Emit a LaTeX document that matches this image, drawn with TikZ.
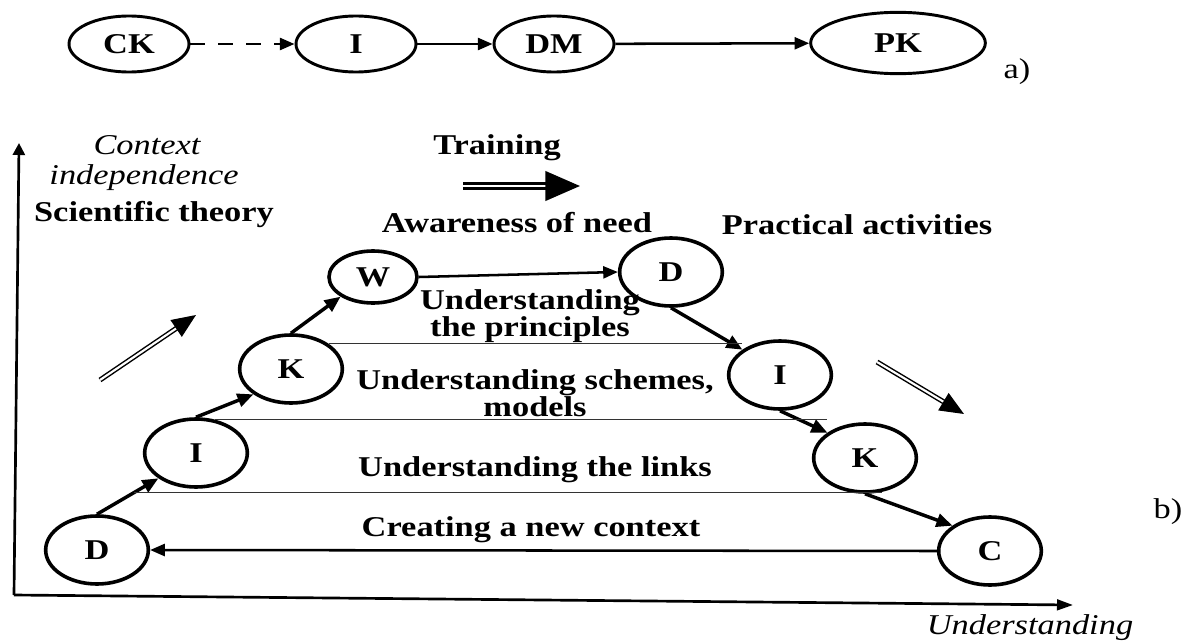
\documentclass[tikz,border=0pt]{standalone}
\usepackage{fontspec}
\setmainfont{Liberation Serif}[FakeStretch=1.2]
\usetikzlibrary{arrows.meta,shapes.geometric,calc}

\begin{document}
\begin{tikzpicture}[x=0.75pt,y=0.75pt,yscale=-1,xscale=1,
  every node/.style={font=\fontsize{21.5}{19.5}\selectfont\bfseries, inner sep=0.75pt, align=center},
  stage/.style={draw, ellipse, line width=2.7pt, minimum width=77pt, minimum height=51pt, inner sep=0pt},
  topstage/.style={draw, ellipse, line width=2.2pt, minimum width=90pt, minimum height=42pt, inner sep=0pt},
  plain/.style={font=\fontsize{21.5}{24}\selectfont},
  slanted/.style={font=\fontsize{21.5}{24}\selectfont\itshape},
  link/.style={line width=2.6pt, -{Triangle[length=12pt,width=10pt]}},
  thinlink/.style={line width=1.9pt, -{Triangle[length=11pt,width=9pt]}},
  level/.style={line width=1pt, black!80},
  hollow/.style={double, line width=1.1pt, double distance=1.6pt, -{Triangle[length=18pt,width=15pt]}}
]
\useasboundingbox (0,0) rectangle (1192,642);
%a) top chain
% Shape: Ellipse
\node[topstage] (ck) at (129,44) {CK};
\node[topstage] (i) at (356,44) {I};
\node[topstage] (dm) at (554,44) {DM};
\node[topstage, minimum width=131pt, minimum height=46pt] (pk) at (898,43) {PK};
% Text Node
\node[plain] (a) at (1017,72) {a)};
%Straight Lines
\draw[thinlink, dash pattern=on 11pt off 10pt] (ck) -- (i);
\draw[thinlink] (i) -- (dm);
\draw[thinlink] (dm) -- (pk);

%b) axes
\coordinate (o) at (14,595);
\coordinate (yend) at (19,143);
\coordinate (xend) at (1073,605);
\draw[line width=2pt, -{Triangle[length=9pt,width=9pt]}] (o) -- (yend);
\draw[line width=2pt, -{Triangle[length=12pt,width=8pt]}] (o) -- (xend);
% Text Node
\node[slanted] (ctx) at (147,145) {Context};
% Text Node
\node[slanted] (indep) at (144,178) {independence};
% Text Node
\node (sci) at (154,214) {Scientific theory};
% Text Node
\node (train) at (497,148) {Training};
% Text Node
\node (aware) at (517,223) {Awareness of need};
% Text Node
\node (pract) at (857,225) {Practical activities};
% Text Node
\node[slanted] (und) at (1030,628) {Understanding};
% Text Node
\node[plain] (b) at (1168,512) {b)};

%Big arrows
\coordinate (tr1) at (463,186);
\coordinate (tr2) at (580,186);
\draw[double, line width=2.4pt, double distance=1.5pt, -{Triangle[length=26pt,width=22pt]}] (tr1) -- (tr2);
\coordinate (up1) at (100,380);
\coordinate (up2) at (196,315);
\draw[hollow] (up1) -- (up2);
\coordinate (dn1) at (877,362);
\coordinate (dn2) at (964,414);
\draw[hollow] (dn1) -- (dn2);

% Shape: Ellipse
\node[stage] (d1) at (97,550) {D};
\node[stage] (i1) at (196,453) {I};
\node[stage] (k1) at (291,369) {K};
\node[stage, minimum width=66pt, minimum height=39pt] (w) at (373,277) {W};
\node[stage] (d2) at (671,272) {D};
\node[stage] (i2) at (780,375) {I};
\node[stage] (k2) at (865,458) {K};
\node[stage] (c) at (990,551) {C};

% Text Node
\node (lvl1) at (530,316) {Understanding\\the principles};
% Text Node
\node (lvl2) at (535,393) {Understanding schemes,\\models};
% Text Node
\node (lvl3) at (535,470) {Understanding the links};
% Text Node
\node (lvl4) at (531,530) {Creating a new context};

%Straight Lines
\draw[link] (d1.north) -- (i1.south west);
\draw[link] (i1.north) -- (k1.south west);
\draw[link] (k1.north) -- (w.south west);
\draw[thinlink] (w.east) -- (d2.west);
\draw[link] (d2.south) -- (i2.north west);
\draw[link] (i2.south) -- (k2.north west);
\draw[link] (k2.south) -- (c.north west);
\draw[thinlink] (c.west) -- (d1.east);

%Levels
\draw[level] (k1.north east) -- (k1.north east -| i2.north west);
\draw[level] (i1.60) -- (i1.60 -| k2.north west);
\coordinate (l3a) at ($(d1.north)!.6!(i1.south west)$);
\coordinate (l3b) at ($(k2.south)!.2!(c.north west)$);
\draw[level] (l3a) -- (l3a -| l3b);
\end{tikzpicture}
\end{document}
